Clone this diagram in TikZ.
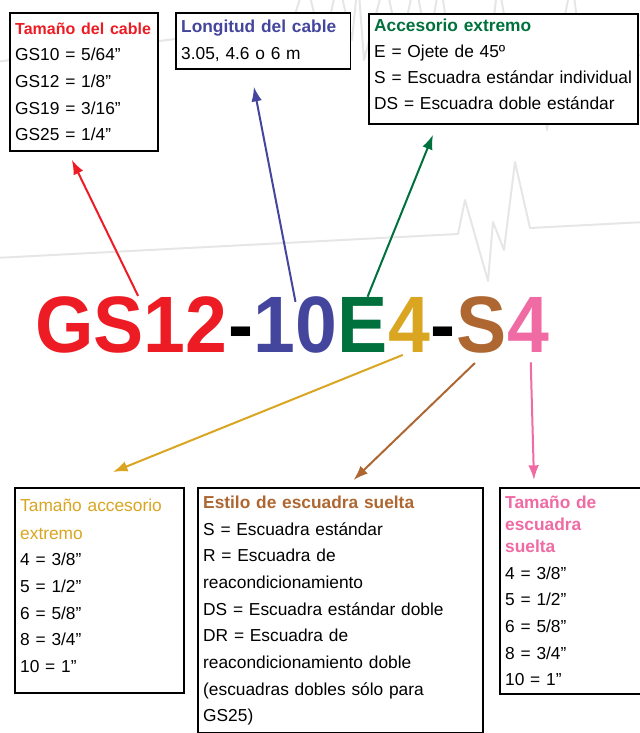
\documentclass[tikz,border=0pt]{standalone}
\usepackage{fontspec}
\setmainfont{Liberation Sans}
\newfontfamily\codefont[FakeStretch=0.94]{Liberation Sans Bold}
\usetikzlibrary{arrows.meta, positioning}
\definecolor{cablered}{RGB}{237,28,36}
\definecolor{lengthblue}{RGB}{68,70,157}
\definecolor{endgreen}{RGB}{0,112,60}
\definecolor{sizegold}{RGB}{218,165,32}
\definecolor{bracketbrown}{RGB}{175,103,50}
\definecolor{bracketpink}{RGB}{240,106,164}
\definecolor{tracegray}{RGB}{230,230,230}
\tikzstyle{infobox} = [rectangle, draw, line width=1.3pt, fill=white,
    anchor=north west, align=left, inner xsep=4pt, inner ysep=0pt,
    font=\fontsize{13}{20}\selectfont]
\tikzstyle{code} = [inner sep=0pt, font=\codefont\fontsize{60}{60}\selectfont]

\begin{document}
\begin{tikzpicture}[
x=0.75pt, y=-0.75pt,
pointer/.style = {line width=1.5pt, -{Latex[length=11pt, width=8pt]}},
trace/.style = {draw=tracegray, line width=1.5pt, line join=round}
                    ]
\useasboundingbox (0,0) rectangle (640,733);
% background trace
\draw[trace] (-5,62) -- (175,39) -- (290,30) -- (306,-20) -- (323,50) -- (338,-20)
  -- (352,40) -- (358,-20) -- (364,60) -- (385,-20) -- (400,50) -- (415,-20)
  -- (428,50) -- (440,-20) -- (452,60) -- (490,55) -- (498,-20) -- (512,60)
  -- (540,60) -- (547,130) -- (556,60) -- (572,-20) -- (582,60) -- (645,55);
\draw[trace] (-5,258) -- (458,234) -- (465,200) -- (488,281) -- (493,222)
  -- (504,250) -- (515,162) -- (530,228) -- (645,222);

% part number
\node[code, text=cablered, anchor=base west] (gs) at (35,352) {GS12};
\node[code, base right=0pt of gs] (dasha) {-};
\node[code, text=lengthblue, base right=0pt of dasha] (len) {10};
\node[code, text=endgreen, base right=0pt of len] (fit) {E};
\node[code, text=sizegold, base right=0pt of fit] (fitsize) {4};
\node[code, base right=0pt of fitsize] (dashb) {-};
\node[code, text=bracketbrown, base right=0pt of dashb] (brk) {S};
\node[code, text=bracketpink, base right=0pt of brk] (brksize) {4};

% top boxes
\node[infobox, text width=103pt, minimum height=103.5pt] (cable) at (9,12)
  {\textcolor{cablered}{\fontsize{12}{20}\selectfont\textbf{Tamaño del cable}}\\
   GS10 = 5/64”\\
   GS12 = 1/8”\\
   GS19 = 3/16”\\
   GS25 = 1/4”};
\node[infobox, text width=123pt, minimum height=42pt] (length) at (175,12)
  {\textcolor{lengthblue}{\textbf{Longitud del cable}}\\
   3.05, 4.6 o 6 m};
\node[infobox, text width=194pt, minimum height=82.5pt] (ending) at (368,13)
  {\textcolor{endgreen}{\textbf{Accesorio extremo}}\\[-0.5pt]
   E = Ojete de 45º\\[-0.5pt]
   S = Escuadra estándar individual\\[-0.5pt]
   DS = Escuadra doble estándar\par\kern7.5pt};

% bottom boxes
\node[infobox, text width=119pt, minimum height=154pt] (endsize) at (14,487)
  {\textcolor{sizegold}{Tamaño accesorio}\\[1pt]
   \textcolor{sizegold}{extremo}\\
   4 = 3/8”\\
   5 = 1/2”\\
   6 = 5/8”\\
   8 = 3/4”\\
   10 = 1”\par\kern7.5pt};
\node[infobox, text width=206pt, minimum height=184pt] (style) at (197,487)
  {\textcolor{bracketbrown}{\textbf{Estilo de escuadra suelta}}\\
   S = Escuadra estándar\\
   R = Escuadra de\\
   reacondicionamiento\\
   DS = Escuadra estándar doble\\
   DR = Escuadra de\\
   reacondicionamiento doble\\
   (escuadras dobles sólo para\\
   GS25)};
\node[infobox, text width=102pt, minimum height=154.5pt] (bsize) at (499,487)
  {\textcolor{bracketpink}{\textbf{Tamaño de}}\\[-3.5pt]
   \textcolor{bracketpink}{\textbf{escuadra}}\\[-3.5pt]
   \textcolor{bracketpink}{\textbf{suelta}}\\
   4 = 3/8”\\
   5 = 1/2”\\
   6 = 5/8”\\
   8 = 3/4”\\
   10 = 1”};

% pointers
\draw[pointer, cablered] ([xshift=5pt]gs.north) -- ([xshift=-9pt, yshift=-6pt]cable.south);
\draw[pointer, lengthblue] ([yshift=-4.5pt]len.north) -- ([xshift=-7pt, yshift=-12.75pt]length.south);
\draw[pointer, endgreen] ([xshift=3.5pt]fit.north) -- ([xshift=48.75pt, yshift=-7.5pt]ending.south west);
\draw[pointer, sizegold] ([xshift=-5pt, yshift=-2pt]fitsize.south) -- ([xshift=10pt, yshift=11.25pt]endsize.north);
\draw[pointer, bracketbrown] ([xshift=-5pt, yshift=-7.5pt]brk.south) -- ([xshift=9.75pt, yshift=5.25pt]style.north);
\draw[pointer, bracketpink] ([xshift=2pt, yshift=-7.5pt]brksize.south) -- ([xshift=26.25pt, yshift=5.25pt]bsize.north west);
\end{tikzpicture}
\end{document}
